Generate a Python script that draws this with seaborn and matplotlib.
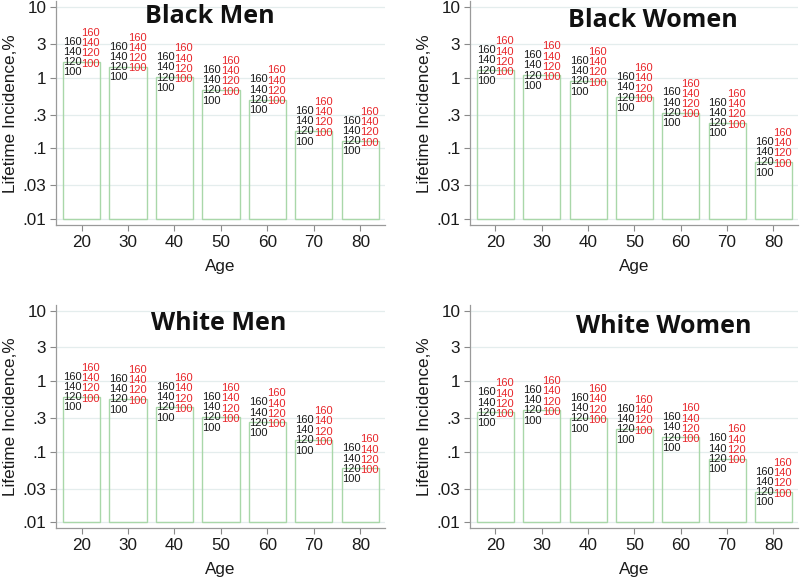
import numpy as np
import matplotlib
matplotlib.use("Agg")
import matplotlib.pyplot as plt
import seaborn as sns

sns.set_theme(style="white")
plt.rcParams['font.family'] = ['Liberation Sans', 'DejaVu Sans']

# data (lifetime incidence, %)
ages = [20, 30, 40, 50, 60, 70, 80]
black_men = [1.68, 1.43, 1.01, 0.67, 0.49, 0.176, 0.128]
black_women = [1.27, 1.08, 0.90, 0.53, 0.32, 0.23, 0.064]
white_men = [0.60, 0.56, 0.43, 0.31, 0.26, 0.146, 0.058]
white_women = [0.36, 0.39, 0.30, 0.21, 0.16, 0.080, 0.027]
ldl_levels = ['160', '140', '120', '100']
ytick_vals = [0.01, 0.03, 0.1, 0.3, 1, 3, 10]
ytick_labels = ['.01', '.03', '.1', '.3', '1', '3', '10']

panels = [
    ("Black Men", black_men, [56, 1.4, 385, 225], 0.468, 0.902),
    ("Black Women", black_women, [470, 1.4, 798, 225], 0.558, 0.887),
    ("White Men", white_men, [56, 305, 385, 528.3], 0.495, 0.888),
    ("White Women", white_women, [470, 305, 798, 528.3], 0.590, 0.873),
]

W, H = 800, 578
fig = plt.figure(figsize=(8, 5.78), dpi=100)

bar_green = '#a9d7a9'
grid_col = '#e4eded'
red = '#e8262a'
step = 7.4  # label line step, points

for title, vals, (x0, y0, x1, y1), tx, ty in panels:
    ax = fig.add_axes([x0 / W, 1 - y1 / H, (x1 - x0) / W, (y1 - y0) / H])
    ax.set_yscale('log')
    ax.set_xlim(14.5, 85.3)
    ax.set_ylim(0.0082, 12)
    for v in ytick_vals:
        ax.axhline(v, color=grid_col, lw=0.9, zorder=0)
    heights = np.array(vals) - 0.01
    ax.bar(ages, heights, bottom=0.01, width=8, facecolor='none',
           edgecolor=bar_green, linewidth=1.0, zorder=2)

    for a, v in zip(ages, vals):
        for i, lab in enumerate(ldl_levels):
            ax.annotate(lab, xy=(a - 4, v), xytext=(0, (2 - i) * step - 0.3),
                        textcoords='offset points', ha='left', va='center',
                        fontsize=8, color='#1a1a1a', zorder=3)
            ax.annotate(lab, xy=(a, v), xytext=(0, (3 - i) * step - 1.3),
                        textcoords='offset points', ha='left', va='center',
                        fontsize=8, color=red, zorder=3)

    ax.text(tx, ty, title, transform=ax.transAxes, ha='center', va='baseline',
            fontsize=18, fontweight='bold', family='Open Sans', color='#111111')

    ax.set_yticks(ytick_vals)
    ax.set_yticklabels(ytick_labels)
    ax.minorticks_off()
    ax.set_xticks(ages)
    ax.tick_params(axis='both', labelsize=12.3, colors='#8a8a8a', labelcolor='#1a1a1a',
                   length=4, width=0.8, direction='out', pad=3)
    ax.tick_params(left=True, bottom=True)
    ax.set_xlabel("Age", fontsize=12.3, color='#1a1a1a', labelpad=6.5)
    ax.set_ylabel("Lifetime Incidence,%", fontsize=12.3, color='#1a1a1a', labelpad=3)
    sns.despine(ax=ax)
    for s in ['left', 'bottom']:
        ax.spines[s].set_color('#9a9a9a')
        ax.spines[s].set_linewidth(0.9)

fig.savefig("out.png", dpi=100, facecolor='white')
